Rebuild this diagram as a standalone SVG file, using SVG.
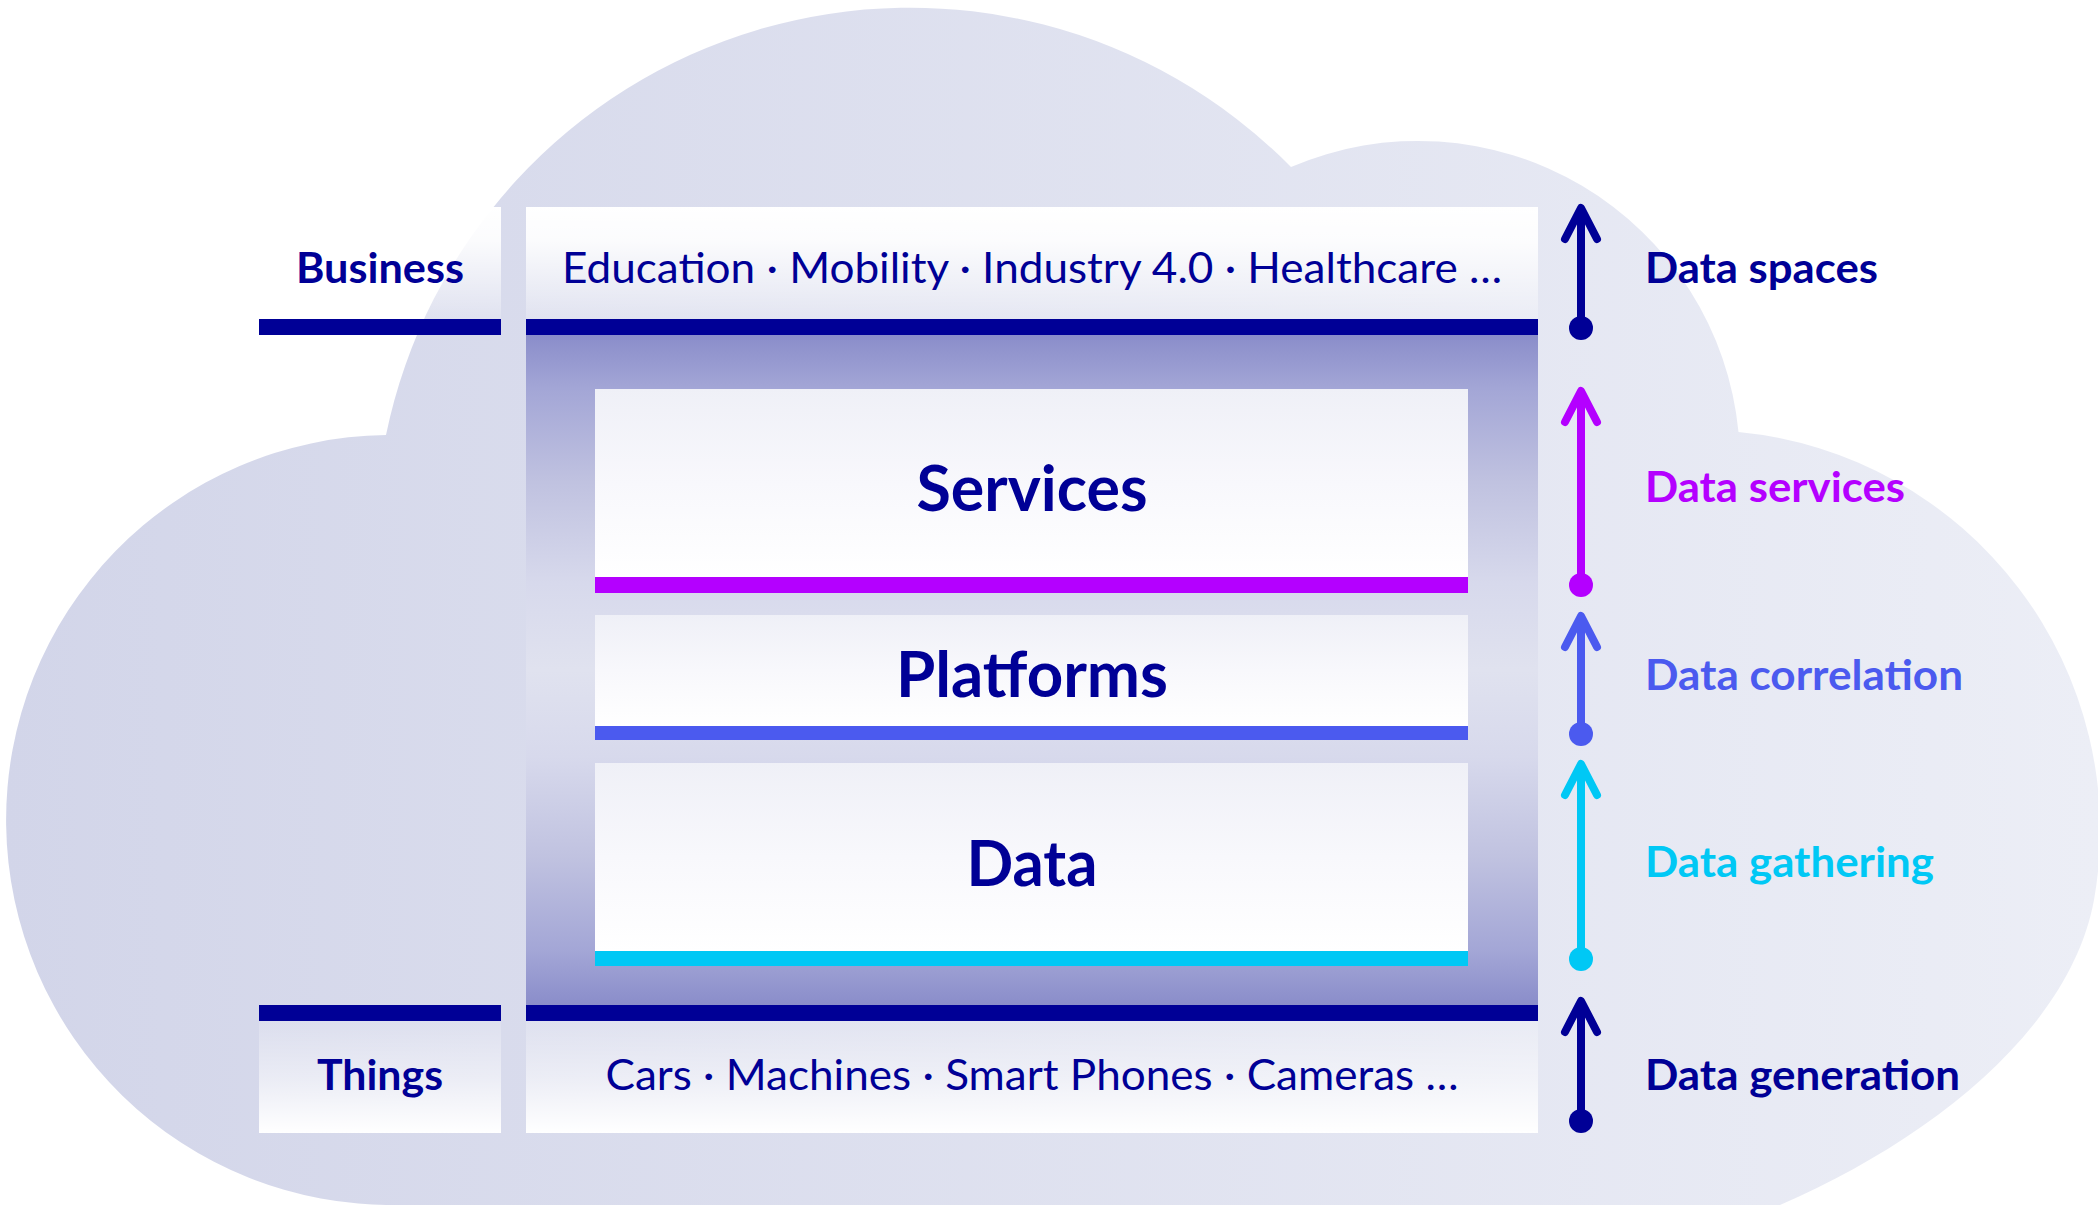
<svg xmlns="http://www.w3.org/2000/svg" width="2098" height="1205" viewBox="0 0 2098 1205">
<style>
  .lbl { font-family: Lato, "Liberation Sans", Arial, sans-serif; font-weight: 700; font-size: 42px; }
  .reg { font-family: Lato, "Liberation Sans", Arial, sans-serif; font-weight: 400; font-size: 42px; fill: #000096; }
  .big { font-family: Lato, "Liberation Sans", Arial, sans-serif; font-weight: 700; font-size: 64px; fill: #000096; }
  .navy { fill: #000096; }
  .c { fill: none; stroke-width: 8; }
  .cN { stroke: #000096; }
  .cP { stroke: #b400ff; }
  .cB { stroke: #4b5aef; }
  .cC { stroke: #00c8f5; }
</style>
<defs>
  <linearGradient id="cloudG" gradientUnits="userSpaceOnUse" x1="0" y1="0" x2="2098" y2="0">
    <stop offset="0" stop-color="#d2d5e9"/>
    <stop offset="1" stop-color="#eceef6"/>
  </linearGradient>
  <linearGradient id="topBox" x1="0" y1="0" x2="0" y2="1">
    <stop offset="0" stop-color="#ffffff" stop-opacity="1"/>
    <stop offset="0.3" stop-color="#ffffff" stop-opacity="0.9"/>
    <stop offset="1" stop-color="#ffffff" stop-opacity="0.2"/>
  </linearGradient>
  <linearGradient id="botBox" x1="0" y1="0" x2="0" y2="1">
    <stop offset="0" stop-color="#ffffff" stop-opacity="0.15"/>
    <stop offset="0.5" stop-color="#ffffff" stop-opacity="0.5"/>
    <stop offset="1" stop-color="#ffffff" stop-opacity="1"/>
  </linearGradient>
  <linearGradient id="midG" x1="0" y1="0" x2="0" y2="1">
    <stop offset="0" stop-color="#8a8dca"/>
    <stop offset="0.08" stop-color="#a3a6d6"/>
    <stop offset="0.22" stop-color="#c0c2e0"/>
    <stop offset="0.37" stop-color="#d7d9ec"/>
    <stop offset="0.5" stop-color="#e0e2ef"/>
    <stop offset="0.63" stop-color="#d7d9ec"/>
    <stop offset="0.78" stop-color="#c0c2e0"/>
    <stop offset="0.92" stop-color="#a3a6d6"/>
    <stop offset="1" stop-color="#8a8dca"/>
  </linearGradient>
  <linearGradient id="innerG" x1="0" y1="0" x2="0" y2="1">
    <stop offset="0" stop-color="#eff0f7"/>
    <stop offset="0.5" stop-color="#f8f8fc"/>
    <stop offset="1" stop-color="#ffffff"/>
  </linearGradient>
  <marker id="hN" markerUnits="userSpaceOnUse" orient="auto" overflow="visible" markerWidth="1" markerHeight="1">
    <path d="M-31,-16 L0,0 L-31,16" fill="none" stroke="#000096" stroke-width="8" stroke-linecap="round" stroke-linejoin="round"/>
  </marker>
  <marker id="hP" markerUnits="userSpaceOnUse" orient="auto" overflow="visible" markerWidth="1" markerHeight="1">
    <path d="M-31,-16 L0,0 L-31,16" fill="none" stroke="#b400ff" stroke-width="8" stroke-linecap="round" stroke-linejoin="round"/>
  </marker>
  <marker id="hB" markerUnits="userSpaceOnUse" orient="auto" overflow="visible" markerWidth="1" markerHeight="1">
    <path d="M-31,-16 L0,0 L-31,16" fill="none" stroke="#4b5aef" stroke-width="8" stroke-linecap="round" stroke-linejoin="round"/>
  </marker>
  <marker id="hC" markerUnits="userSpaceOnUse" orient="auto" overflow="visible" markerWidth="1" markerHeight="1">
    <path d="M-31,-16 L0,0 L-31,16" fill="none" stroke="#00c8f5" stroke-width="8" stroke-linecap="round" stroke-linejoin="round"/>
  </marker>
  <marker id="dN" markerUnits="userSpaceOnUse" overflow="visible" markerWidth="1" markerHeight="1"><circle r="12" fill="#000096"/></marker>
  <marker id="dP" markerUnits="userSpaceOnUse" overflow="visible" markerWidth="1" markerHeight="1"><circle r="12" fill="#b400ff"/></marker>
  <marker id="dB" markerUnits="userSpaceOnUse" overflow="visible" markerWidth="1" markerHeight="1"><circle r="12" fill="#4b5aef"/></marker>
  <marker id="dC" markerUnits="userSpaceOnUse" overflow="visible" markerWidth="1" markerHeight="1"><circle r="12" fill="#00c8f5"/></marker>
</defs>
<rect width="2098" height="1205" fill="#ffffff"/>
<g id="cloud">
  <path fill="url(#cloudG)" d="M396,1205 A385,385 0 0 1 386,435 A535,535 0 0 1 1291,167 A322,322 0 0 1 1738.5,432 A400,400 0 0 1 2094,900 C2070,1030 1930,1140 1780,1205 Z"/>
</g>
<g id="business">
  <rect x="259" y="207" width="242" height="112" fill="url(#topBox)"/>
  <rect x="259" y="319" width="242" height="16" class="navy"/>
  <text x="380" y="283" text-anchor="middle" class="lbl" fill="#000096" textLength="168" lengthAdjust="spacingAndGlyphs">Business</text>
</g>
<g id="domains">
  <rect x="526" y="207" width="1012" height="112" fill="url(#topBox)"/>
  <rect x="526" y="319" width="1012" height="16" class="navy"/>
  <text x="1032" y="283" text-anchor="middle" class="reg" textLength="940" lengthAdjust="spacingAndGlyphs">Education · Mobility · Industry 4.0 · Healthcare …</text>
</g>
<g id="stack">
  <rect x="526" y="335" width="1012" height="670" fill="url(#midG)"/>
</g>
<g id="services">
  <rect x="595" y="389" width="873" height="188" fill="url(#innerG)"/>
  <rect x="595" y="577" width="873" height="16" fill="#b400ff"/>
  <text x="1032" y="511" text-anchor="middle" class="big" textLength="231" lengthAdjust="spacingAndGlyphs">Services</text>
</g>
<g id="platforms">
  <rect x="595" y="615" width="873" height="111" fill="url(#innerG)"/>
  <rect x="595" y="726" width="873" height="14" fill="#4b5aef"/>
  <text x="1032" y="697" text-anchor="middle" class="big" textLength="272" lengthAdjust="spacingAndGlyphs">Platforms</text>
</g>
<g id="data">
  <rect x="595" y="763" width="873" height="188" fill="url(#innerG)"/>
  <rect x="595" y="951" width="873" height="15" fill="#00c8f5"/>
  <text x="1032" y="886" text-anchor="middle" class="big" textLength="131" lengthAdjust="spacingAndGlyphs">Data</text>
</g>
<g id="things">
  <rect x="259" y="1005" width="242" height="16" class="navy"/>
  <rect x="259" y="1021" width="242" height="112" fill="url(#botBox)"/>
  <text x="380" y="1090" text-anchor="middle" class="lbl" fill="#000096" textLength="126" lengthAdjust="spacingAndGlyphs">Things</text>
</g>
<g id="devices">
  <rect x="526" y="1005" width="1012" height="16" class="navy"/>
  <rect x="526" y="1021" width="1012" height="112" fill="url(#botBox)"/>
  <text x="1032" y="1090" text-anchor="middle" class="reg" textLength="853" lengthAdjust="spacingAndGlyphs">Cars · Machines · Smart Phones · Cameras …</text>
</g>
<g id="connectors">
  <path class="c cN" d="M1581,328 V208" marker-start="url(#dN)" marker-end="url(#hN)"/>
  <path class="c cP" d="M1581,585 V391" marker-start="url(#dP)" marker-end="url(#hP)"/>
  <path class="c cB" d="M1581,734 V616" marker-start="url(#dB)" marker-end="url(#hB)"/>
  <path class="c cC" d="M1581,959 V764" marker-start="url(#dC)" marker-end="url(#hC)"/>
  <path class="c cN" d="M1581,1121 V1001" marker-start="url(#dN)" marker-end="url(#hN)"/>
</g>
<g id="labels">
  <text x="1645" y="283" class="lbl" fill="#000096" textLength="233" lengthAdjust="spacingAndGlyphs">Data spaces</text>
  <text x="1645" y="502" class="lbl" fill="#b400ff" textLength="260" lengthAdjust="spacingAndGlyphs">Data services</text>
  <text x="1645" y="690" class="lbl" fill="#4b5aef" textLength="318" lengthAdjust="spacingAndGlyphs">Data correlation</text>
  <text x="1645" y="877" class="lbl" fill="#00c8f5" textLength="289" lengthAdjust="spacingAndGlyphs">Data gathering</text>
  <text x="1645" y="1090" class="lbl" fill="#000096" textLength="315" lengthAdjust="spacingAndGlyphs">Data generation</text>
</g>
</svg>
